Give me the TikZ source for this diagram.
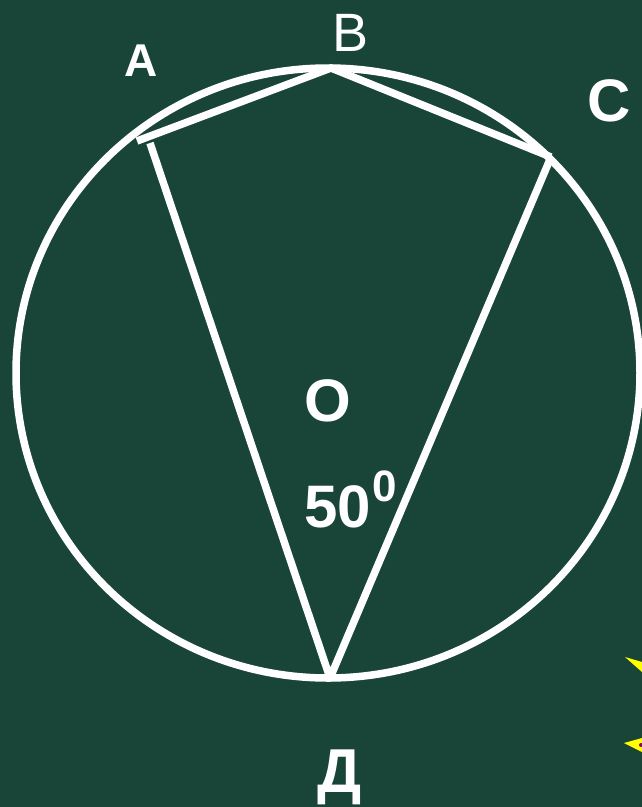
\documentclass[tikz,border=0pt]{standalone}
\usepackage{fontspec}
\setmainfont{Liberation Sans}
\definecolor{board}{RGB}{25,69,56}
\definecolor{tipyellow}{RGB}{255,255,0}
\begin{document}
\begin{tikzpicture}[x=1pt,y=-1pt,
  chalk/.style={draw=white,line width=7.5pt},
  lbl/.style={text=white,inner sep=0pt,font=\bfseries\fontsize{46}{46}\selectfont}]
\fill[board] (0,0) rectangle (642,807);
\useasboundingbox (0,0) rectangle (642,807);
\coordinate (ctr) at (328,373);
\coordinate (A) at (137,141);
\coordinate (A2) at (150,143);
\coordinate (B) at (331,68);
\coordinate (C) at (551,157);
\coordinate (D) at (330,678);
\draw[chalk] (ctr) ellipse [x radius=312, y radius=305];
\draw[chalk,line join=miter] (A) -- (B) -- (C);
\draw[chalk,line join=round] (A2) -- (D) -- (C);
\node[lbl] (la) at (141,61) {A};
\node[lbl,font=\fontsize{54}{54}\selectfont] (lb) at (351,33) {B};
\node[lbl,font=\bfseries\fontsize{60}{60}\selectfont] (lc) at (609,101) {C};
\node[lbl,font=\bfseries\fontsize{60}{60}\selectfont] (lo) at (328,401) {O};
\node[lbl,font=\bfseries\fontsize{60}{60}\selectfont,anchor=base west] (l50) at (304,527) {50};
\node[lbl,font=\bfseries\fontsize{44}{44}\selectfont,anchor=base west] (lsup) at (372,501) {0};
\node[lbl,font=\bfseries\fontsize{62}{62}\selectfont,anchor=base] (ld) at (340,792) {Д};
\fill[tipyellow] (625,657) -- (642,662) -- (642,672) -- cycle;
\fill[tipyellow] (624,743) -- (642,738) -- (642,752) -- cycle;
\fill[violet] (641,745) circle (2);
\end{tikzpicture}
\end{document}
